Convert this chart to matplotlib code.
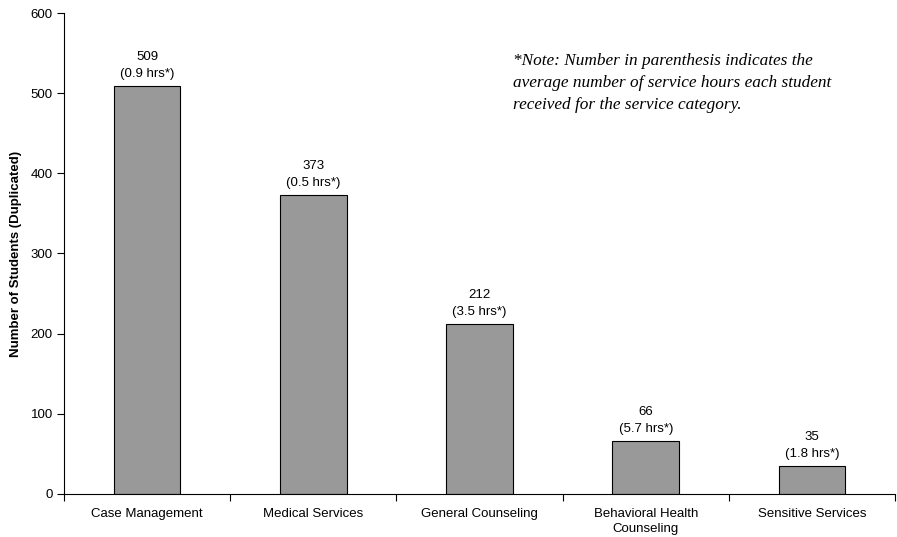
import matplotlib
matplotlib.use("Agg")
import matplotlib.pyplot as plt
import numpy as np

categories = ["Case Management", "Medical Services", "General Counseling",
              "Behavioral Health\nCounseling", "Sensitive Services"]
students = [509, 373, 212, 66, 35]
avg_hours = [0.9, 0.5, 3.5, 5.7, 1.8]

plt.rcParams['font.family'] = ['Liberation Sans', 'DejaVu Sans']

fig = plt.figure(figsize=(8.97, 5.37), dpi=100)
ax = fig.add_axes([64/897, 1-494/537, (895-64)/897, (494-13)/537])

x = np.arange(len(categories))
ax.bar(x, students, width=0.4, color="#999999", edgecolor="black", linewidth=0.8)

for xi, v, h in zip(x, students, avg_hours):
    ax.annotate(f"{v}\n({h} hrs*)", xy=(xi, v), xytext=(0, 4.5),
                textcoords="offset points", ha="center", va="bottom",
                fontsize=9.5, linespacing=1.5)

ax.set_xlim(-0.5, len(categories) - 0.5)
ax.set_ylim(0, 600)
ax.set_yticks(np.arange(0, 601, 100))
ax.set_xticks(x)
ax.set_xticklabels(categories, fontsize=9.5, linespacing=1.3)
ax.set_xticks(np.arange(-0.5, len(categories), 1), minor=True)
ax.tick_params(axis="x", which="major", length=0, pad=10)
ax.tick_params(axis="x", which="minor", length=5, direction="out", width=0.8)
ax.tick_params(axis="y", labelsize=9.5, length=5, direction="out", width=0.8, pad=3)
for s in ["top", "right"]:
    ax.spines[s].set_visible(False)
ax.spines["left"].set_linewidth(0.8)
ax.spines["bottom"].set_linewidth(0.8)

ax.set_ylabel("Number of Students (Duplicated)", fontsize=9.5, fontweight="bold", labelpad=6)

fig.text(513/897, 1-53/537,
         "*Note: Number in parenthesis indicates the\naverage number of service hours each student\nreceived for the service category.",
         ha="left", va="top", fontsize=12.4, fontstyle="italic",
         family=["Liberation Serif", "DejaVu Serif"], linespacing=1.5)

fig.savefig("out.png", dpi=100)
